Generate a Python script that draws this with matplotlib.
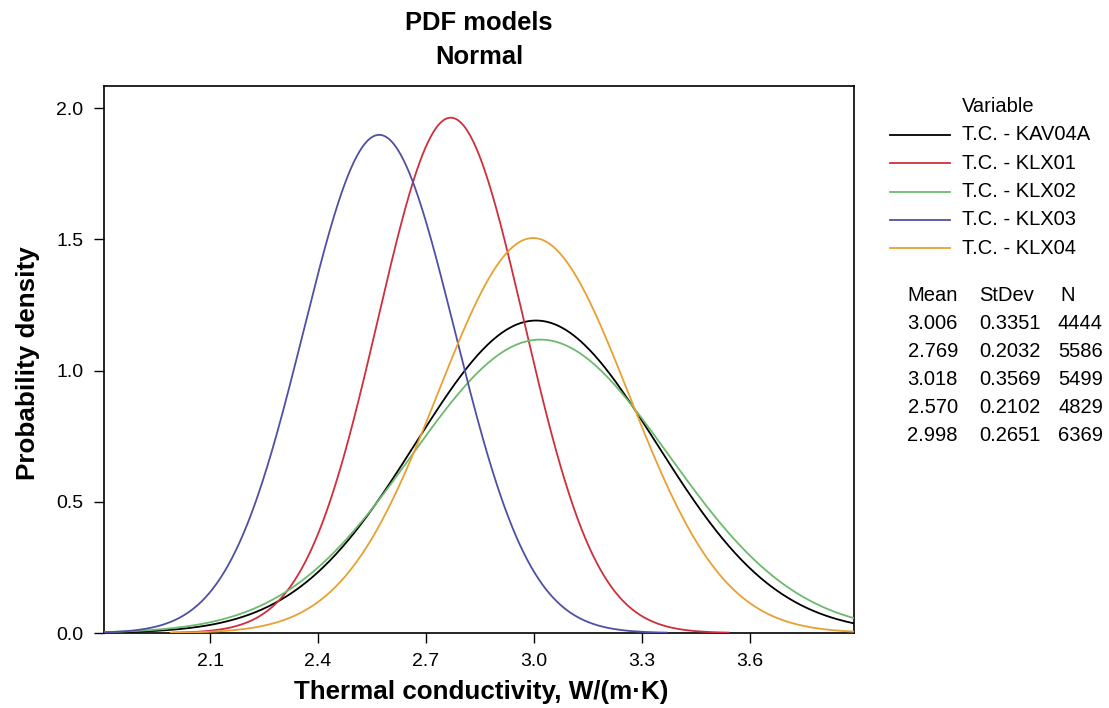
import numpy as np
import matplotlib
matplotlib.use("Agg")
import matplotlib.pyplot as plt

plt.rcParams['font.family'] = ['Liberation Sans', 'DejaVu Sans']

variables = ["T.C. - KAV04A", "T.C. - KLX01", "T.C. - KLX02", "T.C. - KLX03", "T.C. - KLX04"]
means = [3.006, 2.769, 3.018, 2.570, 2.998]
stdevs = [0.3351, 0.2032, 0.3569, 0.2102, 0.2651]
counts = [4444, 5586, 5499, 4829, 6369]
colors = ["#000000", "#cf2e3a", "#6cbb6c", "#4f4fa6", "#e8a032"]
xticks = [2.1, 2.4, 2.7, 3.0, 3.3, 3.6]
yticks = [0.0, 0.5, 1.0, 1.5, 2.0]

W, H = 1109, 708
fig = plt.figure(figsize=(W/100, H/100), dpi=100)
ax = fig.add_axes([104/W, 1-633/H, (854-104)/W, (633-86)/H])
xmin, xmax = 1.805, 3.89
ymin, ymax = 0.0, 2.084

for var, m, s, c in zip(variables, means, stdevs, colors):
    lo = max(xmin, m - 3.8*s)
    hi = min(xmax, m + 3.8*s)
    x = np.linspace(lo, hi, 600)
    y = np.exp(-0.5*((x-m)/s)**2) / (s*np.sqrt(2*np.pi))
    ax.plot(x, y, color=c, lw=1.3, label=var, zorder=3, clip_on=True)

ax.set_xlim(xmin, xmax)
ax.set_ylim(ymin, ymax)
ax.set_xticks(xticks)
ax.set_xticklabels([f"{t:.1f}" for t in xticks])
ax.set_yticks(yticks)
ax.set_yticklabels([f"{t:.1f}" for t in yticks])
ax.tick_params(direction='out', length=7.2, width=1, labelsize=14, pad=7.5)
for sp in ax.spines.values():
    sp.set_linewidth(1.2)

fs = 14.5
fig.text(481/W, 1-692/H, "Thermal conductivity, W/(m\u00b7K)", ha='center', va='center',
         fontsize=18.7, fontweight='bold')
fig.text(28/W, 1-363/H, "Probability density", ha='center', va='center', rotation=90,
         fontsize=18.7, fontweight='bold')
fig.text(479/W, 1-23/H, "PDF models", ha='center', va='center', fontsize=18.4, fontweight='bold')
fig.text(479/W, 1-57/H, "Normal", ha='center', va='center', fontsize=18.4, fontweight='bold')

# legend
fig.text(962/W, 1-106/H, "Variable", ha='left', va='center', fontsize=fs)
for i, (var, c) in enumerate(zip(variables, colors)):
    yy = 1-(135 + 28.3*i)/H
    fig.add_artist(plt.Line2D([890/W, 950/W], [yy, yy], color=c, lw=1.3, transform=fig.transFigure))
    fig.text(962/W, yy, var, ha='left', va='center', fontsize=fs)

# stats table
fig.text(933/W, 1-295/H, "Mean", ha='center', va='center', fontsize=fs)
fig.text(1007/W, 1-295/H, "StDev", ha='center', va='center', fontsize=fs)
fig.text(1068/W, 1-295/H, "N", ha='center', va='center', fontsize=fs)
for i, (m, s, n) in enumerate(zip(means, stdevs, counts)):
    yy = 1-(323 + 28.1*i)/H
    fig.text(958/W, yy, f"{m:.3f}", ha='right', va='center', fontsize=fs)
    fig.text(1041/W, yy, f"{s:.4f}", ha='right', va='center', fontsize=fs)
    fig.text(1103/W, yy, f"{n}", ha='right', va='center', fontsize=fs)

fig.savefig("out.png", dpi=100)
